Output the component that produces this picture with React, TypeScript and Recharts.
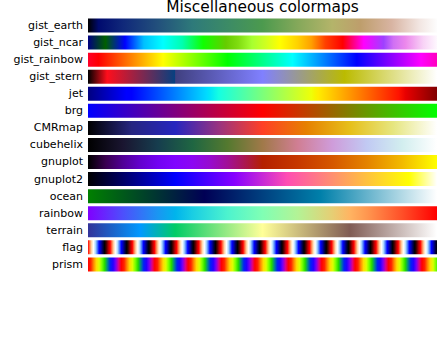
import React from 'react';
import { BarChart, Bar, Cell, XAxis, YAxis } from 'recharts';

// colormap names, top to bottom
const names = [
  'gist_earth', 'gist_ncar', 'gist_rainbow', 'gist_stern', 'jet', 'brg', 'CMRmap',
  'cubehelix', 'gnuplot', 'gnuplot2', 'ocean', 'rainbow', 'terrain', 'flag', 'prism',
];

// every bar spans the full 0..1 range of the gradient
const values = [1, 1, 1, 1, 1, 1, 1, 1, 1, 1, 1, 1, 1, 1, 1];

type Stop = [number, string];

const gistEarth: Stop[] = [
  [0, '#000000'], [0.03, '#000a6e'], [0.1, '#10287a'], [0.2, '#22507c'], [0.3, '#2e7a7a'],
  [0.4, '#3c8b66'], [0.5, '#4c9a4e'], [0.6, '#84a85a'], [0.7, '#b4b46a'], [0.78, '#be9e6c'],
  [0.87, '#d8b4a2'], [0.95, '#f2e6e2'], [1, '#fdfdfd'],
];
const gistNcar: Stop[] = [
  [0, '#000080'], [0.05, '#005f00'], [0.106, '#0000ff'], [0.16, '#00c0ff'], [0.215, '#00ffff'],
  [0.27, '#00ffb0'], [0.33, '#10ff00'], [0.395, '#66cc00'], [0.43, '#80dc10'], [0.47, '#a8ff30'],
  [0.51, '#d0ff20'], [0.55, '#ffff00'], [0.6, '#ffd200'], [0.64, '#ffa000'], [0.68, '#ff4000'],
  [0.73, '#ff0000'], [0.79, '#ff00ff'], [0.847, '#9e40ff'], [0.875, '#d070f4'], [0.91, '#ec88ec'],
  [0.96, '#f8d2f6'], [1, '#fef8fe'],
];
const gistRainbow: Stop[] = [
  [0, '#ff0029'], [0.03, '#ff0000'], [0.215, '#ffff00'], [0.4, '#00ff00'], [0.586, '#00ffff'],
  [0.77, '#0000ff'], [0.954, '#ff00ff'], [1, '#ff00bf'],
];
const gistStern: Stop[] = [
  [0, '#000000'], [0.0547, '#ff0e1c'], [0.249, '#074080'], [0.251, '#404080'], [0.5, '#8080ff'],
  [0.735, '#bbbb00'], [1, '#ffffff'],
];
const jet: Stop[] = [
  [0, '#000080'], [0.11, '#0000ff'], [0.125, '#0000ff'], [0.34, '#00dbff'], [0.35, '#00e6f7'],
  [0.375, '#15ffe2'], [0.64, '#eeff08'], [0.65, '#f7f500'], [0.66, '#ffec00'], [0.89, '#ff1300'],
  [0.91, '#e80000'], [1, '#800000'],
];
const brg: Stop[] = [[0, '#0000ff'], [0.5, '#ff0000'], [1, '#00ff00']];
const cmrmap: Stop[] = [
  [0, '#000000'], [0.125, '#262680'], [0.25, '#2626bf'], [0.375, '#993380'], [0.5, '#ff4026'],
  [0.625, '#e68000'], [0.75, '#e6bf1a'], [0.875, '#e6e680'], [1, '#ffffff'],
];
const cubehelix: Stop[] = [
  [0, '#000000'], [0.1, '#1a1530'], [0.2, '#163d4e'], [0.3, '#1f6642'], [0.4, '#54792f'],
  [0.5, '#a07949'], [0.6, '#d07e93'], [0.7, '#cf9cda'], [0.8, '#c1caf3'], [0.9, '#d2eeef'],
  [1, '#ffffff'],
];
const gnuplot: Stop[] = [
  [0, '#000000'], [0.05, '#39004f'], [0.1, '#510096'], [0.15, '#6301ce'], [0.2, '#7202f2'],
  [0.25, '#8004ff'], [0.3, '#8c07f2'], [0.35, '#970bce'], [0.4, '#a11096'], [0.45, '#ab174f'],
  [0.5, '#b42000'], [0.6, '#c63700'], [0.7, '#d55700'], [0.8, '#e48300'], [0.9, '#f2ba00'],
  [1, '#ffff00'],
];
const gnuplot2: Stop[] = [
  [0, '#000000'], [0.25, '#0000ff'], [0.42, '#8700ff'], [0.57, '#ff4db3'], [0.92, '#ffff00'],
  [1, '#ffffff'],
];
const ocean: Stop[] = [[0, '#008000'], [0.3333, '#000055'], [0.6667, '#0080aa'], [1, '#ffffff']];
const rainbow: Stop[] = [
  [0, '#8000ff'], [0.1, '#4d4ffc'], [0.2, '#1a96f2'], [0.25, '#00b4ec'], [0.3, '#1acee3'],
  [0.4, '#4df3ce'], [0.5, '#80ffb4'], [0.6, '#b3f396'], [0.7, '#e6ce74'], [0.75, '#ffb462'],
  [0.8, '#ff964f'], [0.9, '#ff4f28'], [1, '#ff0000'],
];
const terrain: Stop[] = [
  [0, '#333399'], [0.15, '#0099ff'], [0.25, '#00cc66'], [0.5, '#ffff99'], [0.75, '#805c54'],
  [1, '#ffffff'],
];
// one period each, repeated across the bar
const flag: Stop[] = [
  [0, '#ff0000'], [0.0833, '#ff804e'], [0.1667, '#ffddb1'], [0.25, '#ffffff'], [0.3333, '#b1ddff'],
  [0.4167, '#4e80ff'], [0.5, '#0000ff'], [0.5833, '#0000b1'], [0.6667, '#00004e'], [0.75, '#000000'],
  [0.8333, '#4e0000'], [0.9167, '#b10000'], [1, '#ff0000'],
];
const prism: Stop[] = [
  [0, '#ff0000'], [0.0833, '#ff2300'], [0.1667, '#ff8600'], [0.25, '#ffdb00'], [0.3333, '#dcff00'],
  [0.4167, '#79ff00'], [0.5, '#24db00'], [0.5833, '#00868c'], [0.6667, '#0023f3'], [0.75, '#2400ff'],
  [0.8333, '#7900f3'], [0.9167, '#dc008c'], [1, '#ff0000'],
];

const stops: Stop[][] = [
  gistEarth, gistNcar, gistRainbow, gistStern, jet, brg, cmrmap,
  cubehelix, gnuplot, gnuplot2, ocean, rainbow, terrain, flag, prism,
];

// length of one period as a fraction of the bar (1 = no repeat)
const periods = [1, 1, 1, 1, 1, 1, 1, 1, 1, 1, 1, 1, 1, 2 / 31.5, 2 / 20.9];

const data = names.map((name, i) => ({ name, value: values[i] }));

const FONT = '"DejaVu Sans", sans-serif';

const App: React.FC = () => {
  return (
    <div style={{ position: 'absolute', left: 0, top: 0, width: 440, height: 360, background: '#fff' }}>
      <div
        style={{
          position: 'absolute',
          left: 88,
          top: 0,
          width: 349,
          textAlign: 'center',
          fontFamily: FONT,
          fontSize: 15.4,
          lineHeight: '15.4px',
          color: '#000',
        }}
      >
        Miscellaneous colormaps
      </div>
      <BarChart
        width={440}
        height={360}
        data={data}
        layout="vertical"
        margin={{ top: 16.5, right: 3, bottom: 87.5, left: 0 }}
      >
        <defs>
          {names.map((name, i) => (
            <linearGradient
              key={name}
              id={`cm-${name}`}
              x1="0"
              y1="0"
              x2={periods[i]}
              y2="0"
              spreadMethod={periods[i] < 1 ? 'repeat' : 'pad'}
            >
              {stops[i].map(([offset, color], j) => (
                <stop key={j} offset={offset} stopColor={color} />
              ))}
            </linearGradient>
          ))}
        </defs>
        <XAxis type="number" domain={[0, 1]} hide />
        <YAxis
          type="category"
          dataKey="name"
          width={88}
          axisLine={false}
          tickLine={false}
          tickSize={0}
          tickMargin={5}
          interval={0}
          tick={{ fontSize: 11, fill: '#000', fontFamily: FONT }}
        />
        <Bar dataKey="value" barSize={14} isAnimationActive={false}>
          {data.map((entry) => (
            <Cell key={entry.name} fill={`url(#cm-${entry.name})`} />
          ))}
        </Bar>
      </BarChart>
    </div>
  );
};

export default App;
